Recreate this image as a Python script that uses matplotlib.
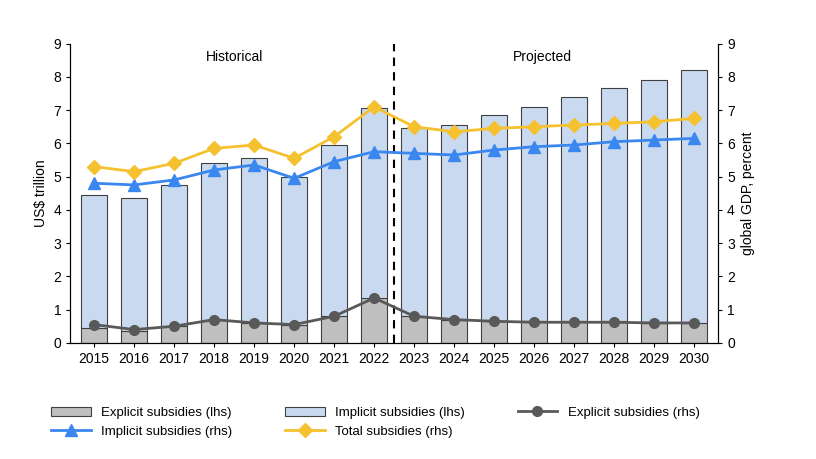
import matplotlib
matplotlib.use("Agg")
import matplotlib.pyplot as plt
import numpy as np

plt.rcParams["font.family"] = ["Liberation Sans", "DejaVu Sans"]
plt.rcParams["font.size"] = 9

years = [str(y) for y in range(2015, 2031)]
explicit_lhs = [0.45, 0.35, 0.5, 0.7, 0.6, 0.55, 0.8, 1.35, 0.8, 0.7, 0.65, 0.65, 0.65, 0.65, 0.6, 0.6]
total_lhs = [4.45, 4.35, 4.75, 5.4, 5.55, 5.0, 5.95, 7.05, 6.45, 6.55, 6.85, 7.1, 7.4, 7.65, 7.9, 8.2]
implicit_lhs = [t - e for t, e in zip(total_lhs, explicit_lhs)]
explicit_rhs = [0.55, 0.4, 0.5, 0.7, 0.6, 0.55, 0.8, 1.35, 0.8, 0.7, 0.65, 0.62, 0.62, 0.62, 0.6, 0.6]
implicit_rhs = [4.8, 4.75, 4.9, 5.2, 5.35, 4.95, 5.45, 5.75, 5.7, 5.65, 5.8, 5.9, 5.95, 6.05, 6.1, 6.15]
total_rhs = [5.3, 5.15, 5.4, 5.85, 5.95, 5.55, 6.2, 7.1, 6.5, 6.35, 6.45, 6.5, 6.55, 6.6, 6.65, 6.75]

fig = plt.figure(figsize=(8.16, 4.59), dpi=100)
ax = fig.add_axes([0.086, 0.253, 0.794, 0.652])
ax2 = ax.twinx()
x = np.arange(len(years))

ax.bar(x, explicit_lhs, width=0.65, color="#c0c0c0", edgecolor="#404040", linewidth=0.8,
       label="Explicit subsidies (lhs)")
ax.bar(x, implicit_lhs, width=0.65, bottom=explicit_lhs, color="#c9daf0", edgecolor="#404040",
       linewidth=0.8, label="Implicit subsidies (lhs)")

ax2.plot(x, explicit_rhs, color="#595959", marker="o", markersize=7, linewidth=2,
         label="Explicit subsidies (rhs)")
ax2.plot(x, implicit_rhs, color="#3a87f0", marker="^", markersize=8, linewidth=2,
         label="Implicit subsidies (rhs)")
ax2.plot(x, total_rhs, color="#f5c12e", marker="D", markersize=7, linewidth=2,
         label="Total subsidies (rhs)")

ax.axvline(7.5, color="black", linestyle=(0, (4, 3)), linewidth=1.5)
ax.text(3.5, 8.6, "Historical", ha="center", va="center", fontsize=10)
ax.text(11.2, 8.6, "Projected", ha="center", va="center", fontsize=10)

for a in (ax, ax2):
    a.set_ylim(0, 9)
    a.set_yticks(range(10))
    a.spines["top"].set_visible(False)
    a.tick_params(labelsize=10, length=3)
ax.set_xlim(-0.6, 15.6)
ax.set_xticks(x)
ax.set_xticklabels(years)
ax.set_ylabel("US$ trillion", fontsize=10)
ax2.set_ylabel("global GDP, percent", fontsize=10)

h1, l1 = ax.get_legend_handles_labels()
h2, l2 = ax2.get_legend_handles_labels()
# order so that rows read: EL, IL, ER / IR, TR
handles = [h1[0], h2[1], h1[1], h2[2], h2[0]]
labels = [l1[0], l2[1], l1[1], l2[2], l2[0]]
fig.legend(handles, labels, loc="lower center", bbox_to_anchor=(0.46, 0.02), ncol=3,
           frameon=False, fontsize=9.5, handlelength=3, columnspacing=4)

fig.savefig("out.png", dpi=100)
